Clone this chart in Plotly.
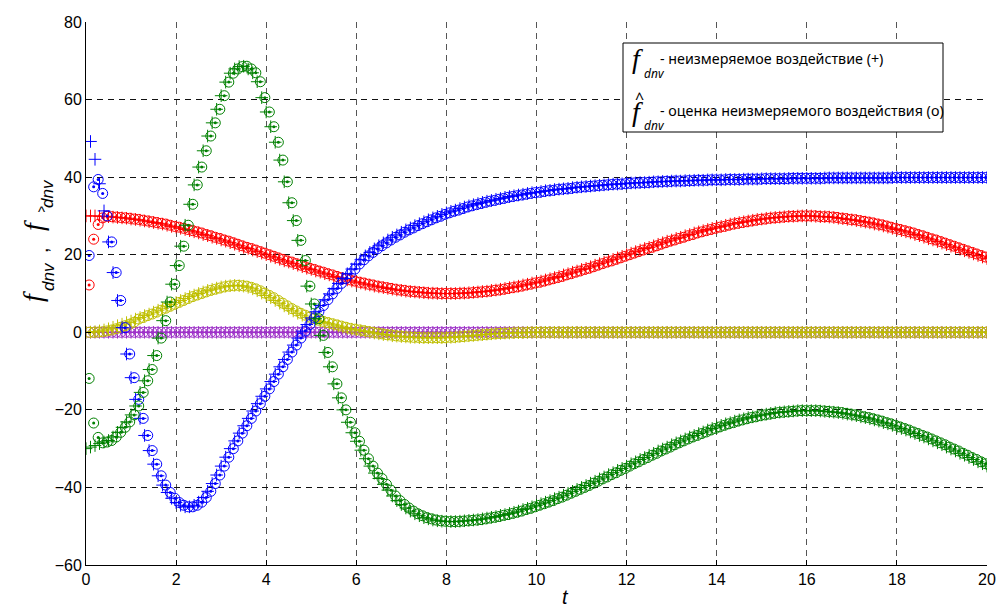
import plotly.graph_objects as go

# time axis (s)
t = [round(0.1 * k, 1) for k in range(201)]

# true disturbances f_dnv ("+")
blue = [None, 49.2, 44.6, 38.3, 31.3, 23.3, 15.4, 8.2, 1.2, -5.6, -11.7,
        -17.3, -22.2, -26.6, -30.5, -34.0, -37.0, -39.4, -41.3, -42.8, -43.9,
        -44.6, -45.0, -45.0, -44.6, -43.8, -42.6, -41.0, -39.0, -36.8, -34.5,
        -32.2, -30.0, -28.0, -26.0, -24.1, -22.2, -20.3, -18.4, -16.5, -14.6,
        -12.7, -10.8, -8.9, -7.0, -5.1, -3.3, -1.5, 0.3, 2.0, 3.7,
        5.3, 6.9, 8.4, 9.9, 11.3, 12.6, 13.9, 15.1, 16.3, 17.6,
        18.7, 19.7, 20.6, 21.5, 22.3, 23.05, 23.8, 24.5, 25.1, 25.8,
        26.4, 26.9, 27.5, 28.0, 28.5, 29.0, 29.5, 29.9, 30.4, 30.8,
        31.2, 31.5, 31.9, 32.3, 32.6, 32.9, 33.2, 33.5, 33.8, 34.0,
        34.3, 34.5, 34.8, 35.0, 35.2, 35.4, 35.6, 35.8, 36.0, 36.1,
        36.3, 36.5, 36.6, 36.8, 36.9, 37.0, 37.1, 37.3, 37.4, 37.5,
        37.6, 37.7, 37.8, 37.9, 38.0, 38.1, 38.2, 38.2, 38.3, 38.4,
        38.5, 38.5, 38.6, 38.6, 38.7, 38.8, 38.8, 38.9, 38.9, 39.0,
        39.0, 39.0, 39.1, 39.1, 39.2, 39.2, 39.2, 39.3, 39.3, 39.3,
        39.3, 39.4, 39.4, 39.4, 39.4, 39.5, 39.5, 39.5, 39.5, 39.6,
        39.6, 39.6, 39.6, 39.6, 39.6, 39.7, 39.7, 39.7, 39.7, 39.7,
        39.7, 39.7, 39.7, 39.8, 39.8, 39.8, 39.8, 39.8, 39.8, 39.8,
        39.8, 39.8, 39.8, 39.8, 39.8, 39.8, 39.8, 39.8, 39.9, 39.9,
        39.9, 39.9, 39.9, 39.9, 39.9, 39.9, 39.9, 39.9, 39.9, 39.9,
        39.9, 39.9, 39.9, 39.9, 39.9, 39.9, 39.9, 39.9, 39.9, 39.9]

red = [30.0, 30.0, 30.0, 29.9, 29.9, 29.8, 29.7, 29.6, 29.5, 29.4, 29.2,
       29.1, 28.9, 28.7, 28.5, 28.3, 28.1, 27.9, 27.6, 27.3, 27.1,
       26.8, 26.5, 26.2, 25.9, 25.6, 25.2, 24.9, 24.5, 24.2, 23.8,
       23.5, 23.1, 22.7, 22.3, 21.9, 21.6, 21.2, 20.8, 20.4, 20.0,
       19.6, 19.2, 18.8, 18.4, 18.1, 17.7, 17.3, 16.9, 16.5, 16.2,
       15.8, 15.5, 15.1, 14.8, 14.4, 14.1, 13.8, 13.5, 13.2, 12.9,
       12.7, 12.4, 12.2, 11.9, 11.7, 11.5, 11.3, 11.1, 10.9, 10.8,
       10.6, 10.5, 10.4, 10.3, 10.2, 10.1, 10.1, 10.0, 10.0, 10.0,
       10.0, 10.0, 10.1, 10.1, 10.2, 10.3, 10.4, 10.5, 10.6, 10.8,
       10.9, 11.1, 11.3, 11.5, 11.7, 11.9, 12.2, 12.4, 12.7, 12.9,
       13.2, 13.5, 13.8, 14.1, 14.4, 14.8, 15.1, 15.5, 15.8, 16.2,
       16.5, 16.9, 17.3, 17.7, 18.1, 18.4, 18.8, 19.2, 19.6, 20.0,
       20.4, 20.8, 21.2, 21.6, 21.9, 22.3, 22.7, 23.1, 23.5, 23.8,
       24.2, 24.5, 24.9, 25.2, 25.6, 25.9, 26.2, 26.5, 26.8, 27.1,
       27.3, 27.6, 27.9, 28.1, 28.3, 28.5, 28.7, 28.9, 29.1, 29.2,
       29.4, 29.5, 29.6, 29.7, 29.8, 29.9, 29.9, 30.0, 30.0, 30.0,
       30.0, 29.9, 29.8, 29.8, 29.7, 29.6, 29.4, 29.3, 29.1, 29.0,
       28.8, 28.6, 28.4, 28.2, 27.9, 27.7, 27.4, 27.1, 26.8, 26.5,
       26.2, 25.9, 25.6, 25.2, 24.9, 24.5, 24.1, 23.8, 23.4, 23.0,
       22.6, 22.2, 21.8, 21.4, 21.0, 20.6, 20.2, 19.8, 19.4, 19.0]

green = [-30.0, -29.6, -29.2, -28.7, -28.3, -27.9, -27.0, -25.8, -24.5, -23.1, -21.3,
         -19.0, -15.5, -12.5, -9.6, -6.0, -1.5, 3.0, 7.8, 12.4, 17.2,
         22.2, 27.6, 33.0, 38.0, 42.6, 46.8, 50.6, 54.0, 57.5, 61.0,
         64.5, 66.8, 67.9, 68.5, 68.6, 67.9, 66.9, 64.6, 60.5, 56.8,
         53.0, 49.0, 44.4, 38.8, 33.4, 28.8, 23.7, 18.5, 11.9, 7.3,
         3.5, -0.8, -5.2, -8.9, -13.3, -16.9, -20.0, -23.2, -25.9, -28.1,
         -30.4, -32.6, -34.5, -36.3, -37.7, -39.2, -40.7, -42.2, -43.4, -44.4,
         -45.3, -46.1, -46.8, -47.3, -47.8, -48.1, -48.4, -48.6, -48.7, -48.8,
         -48.8, -48.8, -48.7, -48.6, -48.5, -48.4, -48.3, -48.1, -47.9, -47.7,
         -47.5, -47.2, -47.0, -46.7, -46.4, -46.1, -45.7, -45.4, -45.0, -44.6,
         -44.2, -43.8, -43.4, -42.9, -42.5, -42.0, -41.5, -41.0, -40.5, -40.0,
         -39.5, -38.9, -38.4, -37.8, -37.3, -36.7, -36.2, -35.6, -35.1, -34.5,
         -33.9, -33.4, -32.8, -32.3, -31.7, -31.2, -30.6, -30.1, -29.6, -29.0,
         -28.5, -28.0, -27.5, -27.0, -26.6, -26.1, -25.7, -25.2, -24.8, -24.4,
         -24.0, -23.6, -23.3, -22.9, -22.6, -22.3, -22.0, -21.8, -21.5, -21.3,
         -21.1, -20.9, -20.7, -20.6, -20.5, -20.4, -20.3, -20.2, -20.2, -20.2,
         -20.2, -20.2, -20.3, -20.4, -20.5, -20.6, -20.7, -20.9, -21.1, -21.3,
         -21.5, -21.8, -22.0, -22.3, -22.6, -22.9, -23.3, -23.6, -24.0, -24.4,
         -24.8, -25.2, -25.7, -26.1, -26.6, -27.0, -27.5, -28.0, -28.5, -29.0,
         -29.6, -30.1, -30.6, -31.2, -31.7, -32.3, -32.8, -33.4, -33.9, -34.5]

yellow = [0.0, 0.05, 0.15, 0.35, 0.6, 0.9, 1.3, 1.7, 2.1, 2.5, 2.9,
          3.4, 3.8, 4.3, 4.7, 5.2, 5.7, 6.2, 6.7, 7.2, 7.7,
          8.2, 8.7, 9.2, 9.6, 10.0, 10.4, 10.8, 11.1, 11.4, 11.7,
          11.9, 12.0, 12.1, 12.0, 11.9, 11.6, 11.2, 10.7, 10.1, 9.5,
          8.9, 8.2, 7.5, 6.8, 6.1, 5.5, 4.9, 4.4, 3.9, 3.5,
          3.1, 2.8, 2.5, 2.2, 1.9, 1.6, 1.3, 1.0, 0.8, 0.6,
          0.4, 0.2, 0.0, -0.2, -0.4, -0.6, -0.7, -0.9, -1.0, -1.1,
          -1.2, -1.3, -1.3, -1.4, -1.4, -1.4, -1.4, -1.4, -1.4, -1.3,
          -1.3, -1.2, -1.1, -1.0, -0.9, -0.8, -0.7, -0.6, -0.5, -0.4,
          -0.3, -0.3, -0.2, -0.2, -0.1, -0.1, -0.1, 0.0, 0.0, 0.0,
          0, 0, 0, 0, 0, 0, 0, 0, 0, 0, 0, 0, 0, 0, 0, 0, 0, 0, 0, 0,
          0, 0, 0, 0, 0, 0, 0, 0, 0, 0, 0, 0, 0, 0, 0, 0, 0, 0, 0, 0,
          0, 0, 0, 0, 0, 0, 0, 0, 0, 0, 0, 0, 0, 0, 0, 0, 0, 0, 0, 0,
          0, 0, 0, 0, 0, 0, 0, 0, 0, 0, 0, 0, 0, 0, 0, 0, 0, 0, 0, 0,
          0, 0, 0, 0, 0, 0, 0, 0, 0, 0, 0, 0, 0, 0, 0, 0, 0, 0, 0, 0]

magenta = [0, 0, 0, 0, 0, 0, 0, 0, 0, 0, 0, 0, 0, 0, 0, 0, 0, 0, 0, 0,
           0, 0, 0, 0, 0, 0, 0, 0, 0, 0, 0, 0, 0, 0, 0, 0, 0, 0, 0, 0,
           0, 0, 0, 0, 0, 0, 0, 0, 0, 0, 0, 0, 0, 0, 0, 0, 0, 0, 0, 0,
           0, 0, 0, 0, 0, 0, 0, 0, 0, 0, 0, 0, 0, 0, 0, 0, 0, 0, 0, 0,
           0, 0, 0, 0, 0, 0, 0, 0, 0, 0, 0, 0, 0, 0, 0, 0, 0, 0, 0, 0,
           0, 0, 0, 0, 0, 0, 0, 0, 0, 0, 0, 0, 0, 0, 0, 0, 0, 0, 0, 0,
           0, 0, 0, 0, 0, 0, 0, 0, 0, 0, 0, 0, 0, 0, 0, 0, 0, 0, 0, 0,
           0, 0, 0, 0, 0, 0, 0, 0, 0, 0, 0, 0, 0, 0, 0, 0, 0, 0, 0, 0,
           0, 0, 0, 0, 0, 0, 0, 0, 0, 0, 0, 0, 0, 0, 0, 0, 0, 0, 0, 0,
           0, 0, 0, 0, 0, 0, 0, 0, 0, 0, 0, 0, 0, 0, 0, 0, 0, 0, 0, 0, 0]

# estimates ("o"): initial transient read separately, then they follow the true values
blue_hat_start = [19.8, 37.5, 39.4, 35.8, 30.0]
red_hat_start = [12.2, 24.0, 27.8, 29.5]
green_hat_start = [-11.9, -23.4, -27.1, -28.5]
yellow_hat_start = [0.0, 0.0, 0.05, 0.15, 0.35, 0.6, 0.9, 1.3, 1.7, 2.1, 2.6]
est_lag = 0.07  # estimates plotted slightly later than the true samples

blue_hat = blue_hat_start + blue[len(blue_hat_start):]
red_hat = red_hat_start + red[len(red_hat_start):]
green_hat = green_hat_start + green[len(green_hat_start):]
yellow_hat = yellow_hat_start + yellow[len(yellow_hat_start):]
magenta_hat = list(magenta)
t_hat = [round(v + est_lag, 2) for v in t]

x_ticks = [0, 2, 4, 6, 8, 10, 12, 14, 16, 18, 20]
y_ticks = [-60, -40, -20, 0, 20, 40, 60, 80]

series = [
    (magenta, magenta_hat, "#9E32C8"),
    (yellow, yellow_hat, "#BFBF00"),
    (red, red_hat, "#FF0000"),
    (blue, blue_hat, "#0000FF"),
    (green, green_hat, "#008000"),
]

fig = go.Figure()
for true_v, hat_v, col in series:
    fig.add_trace(go.Scatter(
        x=t, y=true_v, mode="markers", showlegend=False, hoverinfo="skip",
        marker=dict(symbol="cross-thin-open", size=9, color=col,
                    line=dict(color=col, width=1))))
    fig.add_trace(go.Scatter(
        x=t_hat, y=hat_v, mode="markers", showlegend=False, hoverinfo="skip",
        marker=dict(symbol="circle-open", size=10, color=col,
                    line=dict(color=col, width=1))))
    fig.add_trace(go.Scatter(
        x=t_hat, y=hat_v, mode="markers", showlegend=False, hoverinfo="skip",
        marker=dict(symbol="circle", size=3, color=col, line=dict(width=0))))

W, H = 997, 609
L, R, T, B = 86, 10, 22, 44
PW, PH = W - L - R, H - T - B


def px(x):
    return (x - L) / PW


def py(y):
    return (H - B - y) / PH


anns = []


def ann(text, x, y, size, family="Liberation Sans", angle=0, xanchor="center"):
    anns.append(dict(text=text, x=px(x), y=py(y), xref="paper", yref="paper",
                     showarrow=False, textangle=angle, xanchor=xanchor,
                     yanchor="middle", borderpad=0,
                     font=dict(size=size, family=family, color="black")))


SERIF = "Liberation Serif"
# legend box content
ann("<i>f</i>", 637, 58, 28, SERIF)
ann("<i>dnv</i>", 643, 74, 12, "Noto Sans", xanchor="left")
ann("- неизмеряемое воздействие (+)", 659, 58, 14.3, "Noto Sans", xanchor="left")
ann("^", 639, 98, 16, "Noto Sans")
ann("<i>f</i>", 637, 111, 28, SERIF)
ann("<i>dnv</i>", 643, 126, 12, "Noto Sans", xanchor="left")
ann("- оценка неизмеряемого воздействия (о)", 659, 110, 14.3, "Noto Sans", xanchor="left")

# y-axis label (rotated)
ann("<i>f</i>", 33, 297, 28, SERIF, angle=-90)
ann("<i>dnv</i>", 48, 277, 17, "Liberation Sans", angle=-90)
ann(",", 41, 250, 20, "Liberation Sans", angle=-90)
ann("<i>f</i>", 33, 226, 28, SERIF, angle=-90)
ann("^", 41, 211, 15, "Liberation Sans")
ann("<i>dnv</i>", 48, 194, 17, "Liberation Sans", angle=-90)

# x-axis label
ann("<i>t</i>", 565, 597, 20, "Liberation Sans")

axis_common = dict(showline=True, linecolor="black", linewidth=1, ticks="inside",
                   ticklen=5, tickcolor="black", showgrid=True,
                   gridwidth=1, griddash="6px,5px", zeroline=False, automargin=False,
                   tickfont=dict(family="Liberation Sans", size=16, color="black"))

fig.update_layout(
    width=W, height=H, margin=dict(l=L, r=R, t=T, b=B, autoexpand=False),
    plot_bgcolor="white", paper_bgcolor="white", showlegend=False,
    annotations=anns,
    shapes=[dict(type="rect", xref="paper", yref="paper",
                 x0=px(623), x1=px(943), y0=py(132), y1=py(43),
                 line=dict(color="black", width=1), fillcolor="white", layer="above")],
    xaxis=dict(range=[0, 20], tickvals=x_ticks, gridcolor="#555", **axis_common),
    yaxis=dict(range=[-60, 80], tickvals=y_ticks, gridcolor="#111", **axis_common),
)

fig.write_html("out.html")
